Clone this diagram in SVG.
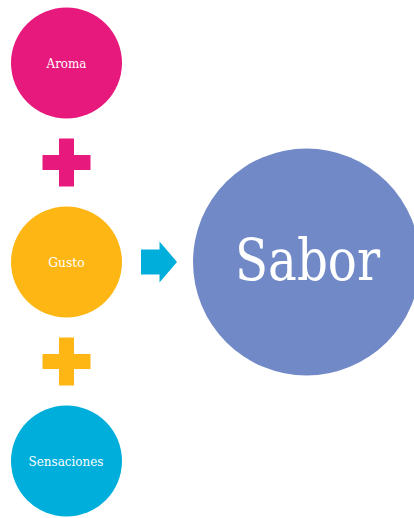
<svg xmlns="http://www.w3.org/2000/svg" width="414" height="518" viewBox="0 0 414 518">
  <style>
    .label { font-family: "DejaVu Serif", "Liberation Serif", serif; fill: #ffffff; text-anchor: middle; }
    .small { font-size: 13px; }
    .big { font-size: 57px; }
  </style>
  <defs>
    <path id="plus" d="M -7.5 -24 H 7.5 V -7.5 H 24 V 7.5 H 7.5 V 24 H -7.5 V 7.5 H -24 V -7.5 H -7.5 Z"/>
  </defs>
  <rect width="414" height="518" fill="#ffffff"/>

  <g id="aroma">
    <circle cx="66.5" cy="63" r="55.5" fill="#E8197D"/>
    <text class="label small" x="66.5" y="67.7" textLength="40" lengthAdjust="spacingAndGlyphs">Aroma</text>
  </g>

  <g id="gusto">
    <circle cx="66.5" cy="262" r="55.5" fill="#FDB614"/>
    <text class="label small" x="66.5" y="266.7" textLength="36.5" lengthAdjust="spacingAndGlyphs">Gusto</text>
  </g>

  <g id="sensaciones">
    <circle cx="66.5" cy="461" r="55.5" fill="#00AEDC"/>
    <text class="label small" x="66" y="466" textLength="75" lengthAdjust="spacingAndGlyphs">Sensaciones</text>
  </g>

  <g id="sabor">
    <circle cx="306.5" cy="262" r="113.5" fill="#718AC7"/>
    <text class="label big" x="307.5" y="280" textLength="145" lengthAdjust="spacingAndGlyphs">Sabor</text>
  </g>

  <g id="connectors">
    <use href="#plus" x="66.5" y="162.5" fill="#E8197D"/>
    <use href="#plus" x="66.5" y="361.5" fill="#FDB614"/>
    <path d="M 141 249.5 H 159.5 V 241.5 L 177 262 L 159.5 282.5 V 274.5 H 141 Z" fill="#00AEDC"/>
  </g>
</svg>
